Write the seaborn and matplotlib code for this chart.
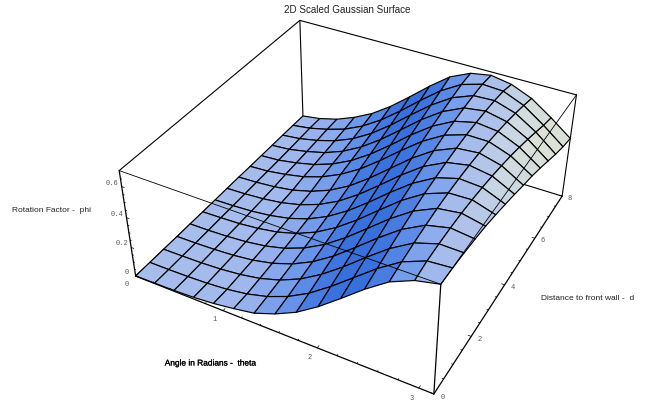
import numpy as np
import matplotlib
matplotlib.use("Agg")
import matplotlib.pyplot as plt
import matplotlib.patheffects as pe
import seaborn as sns

TITLE = "2D Scaled Gaussian Surface"
XLABEL = "Angle in Radians -  theta"
YLABEL = "Distance to front wall -  d"
ZLABEL = "Rotation Factor -  phi"

theta = [0, .224, .449, .673, .898, 1.122, 1.346, 1.571, 1.795, 2.020, 2.244, 2.468, 2.693, 2.917, 3.142]
dist = [0, .571, 1.143, 1.714, 2.286, 2.857, 3.429, 4.0, 4.571, 5.143, 5.714, 6.286, 6.857, 7.429, 8.0]

phi = [
    [.001, .003, .006, .012, .025, .045, .070, .122, .190, .284, .393, .506, .606, .668, .700],
    [.001, .002, .005, .011, .023, .045, .082, .138, .215, .315, .425, .536, .630, .687, .698],
    [.001, .003, .006, .014, .029, .054, .096, .158, .242, .345, .458, .565, .650, .695, .692],
    [.001, .003, .008, .017, .034, .064, .111, .179, .269, .377, .489, .592, .667, .699, .682],
    [.002, .004, .010, .021, .041, .075, .128, .203, .299, .409, .521, .617, .681, .699, .669],
    [.002, .006, .012, .026, .049, .088, .147, .228, .328, .440, .550, .639, .690, .694, .650],
    [.003, .007, .015, .031, .058, .102, .167, .254, .358, .471, .575, .655, .695, .685, .628],
    [.004, .009, .019, .037, .069, .118, .188, .281, .389, .501, .601, .670, .696, .673, .605],
    [.005, .011, .023, .044, .081, .135, .211, .310, .420, .531, .623, .681, .693, .657, .578],
    [.004, .012, .032, .059, .103, .166, .248, .350, .460, .564, .645, .689, .687, .639, .555],
    [.005, .014, .037, .068, .116, .184, .273, .378, .489, .588, .660, .692, .676, .617, .525],
    [.005, .017, .043, .077, .130, .204, .298, .406, .516, .610, .673, .692, .663, .592, .492],
    [.006, .021, .049, .088, .145, .225, .324, .435, .542, .630, .682, .688, .645, .563, .458],
    [.006, .025, .057, .099, .163, .248, .351, .463, .568, .648, .687, .679, .624, .533, .430],
    [.005, .025, .060, .114, .183, .274, .381, .493, .594, .655, .678, .655, .600, .510, .410],
]

theta_ticks = [0, 1, 2, 3]
theta_minor = [.2, .4, .6, .8, 1.2, 1.4, 1.6, 1.8, 2.2, 2.4, 2.6, 2.8]
dist_ticks = [0, 2, 4, 6, 8]
dist_minor = [.5, 1, 1.5, 2.5, 3, 3.5, 4.5, 5, 5.5, 6.5, 7, 7.5]
phi_ticks = [0, .2, .4, .6]
phi_tick_labels = ["0", "0.2", "0.4", "0.6"]
phi_minor = [.05, .1, .15, .25, .3, .35, .45, .5, .55, .65]

TMAX, DMAX, ZMAX = np.pi, 8.0, 0.7
W, H = 649, 401

# Camera: where the box corners and axis ticks fall in the picture
box_corners = [(0, 0, 0), (TMAX, 0, 0), (TMAX, DMAX, 0), (0, DMAX, 0),
               (0, 0, ZMAX), (TMAX, 0, ZMAX), (TMAX, DMAX, ZMAX), (0, DMAX, ZMAX)]
box_pixels = [(135, 277), (434, 394), (563, 197), (303, 115),
              (118, 170), (441, 283), (577, 94), (300, 22)]
tick_points = [(1, 0, 0), (2, 0, 0), (3, 0, 0),
               (TMAX, 2, 0), (TMAX, 4, 0), (TMAX, 6, 0),
               (0, 0, .2), (0, 0, .4), (0, 0, .6)]
tick_pixels = [(224, 311), (318, 348.5), (420, 388),
               (470, 337), (503, 285), (534, 238),
               (131.7, 245), (126.7, 218), (121.7, 188)]


def fit_camera(corners, pixels):
    rows, rhs = [], []
    for (x, y, z), (u, v) in zip(corners, pixels):
        rows.append([x, y, z, 1, 0, 0, 0, 0, -u * x, -u * y, -u * z]); rhs.append(u)
        rows.append([0, 0, 0, 0, x, y, z, 1, -v * x, -v * y, -v * z]); rhs.append(v)
    p = np.linalg.lstsq(np.array(rows, float), np.array(rhs, float), rcond=None)[0]
    return np.append(p, 1.0).reshape(3, 4)


sns.set_theme(style="white")
plt.rcParams["font.family"] = ["Liberation Sans", "DejaVu Sans"]

fig = plt.figure(figsize=(W / 100, H / 100), dpi=100, facecolor="white")
ax = fig.add_axes([0, 0, 1, 1], projection="3d", computed_zorder=False)
ax.set_axis_off()
ax.patch.set_alpha(0)
ax.apply_aspect = lambda position=None: None

CAM = fit_camera(box_corners + tick_points, box_pixels + tick_pixels)


def get_proj():
    flip = np.array([[1, 0, 0], [0, -1, H], [0, 0, 1]], float)
    inv = ax.transData.inverted().get_matrix()
    p = inv @ flip @ CAM
    return np.array([p[0], p[1], [0, 0, 0, -1], p[2]])


ax.get_proj = get_proj


def to_fig(x, y, z):
    u, v, w = CAM @ np.array([x, y, z, 1.0])
    return u / w / W, 1 - v / w / H


T, D = np.meshgrid(np.array(theta), np.array(dist))
Z = np.array(phi)

# Shading: the surface is lit according to its tilt along theta
slope = np.diff(Z, axis=1) / np.diff(T, axis=1)
slope = 0.5 * (slope[:-1] + slope[1:])
shade_map = sns.blend_palette(
    [(225/255, 228/255, 212/255), (202/255, 215/255, 228/255), (175/255, 194/255, 233/255),
     (160/255, 184/255, 237/255), (108/255, 152/255, 235/255), (55/255, 112/255, 220/255)],
    as_cmap=True)
colors = np.ones(Z.shape + (4,))
colors[:-1, :-1] = shade_map(np.clip((slope + 0.5) / 1.0, 0, 1))

corner = dict(zip("ABCDEFGH", box_corners))


def edge(a, b, z, lw=0.8):
    p, q = corner[a], corner[b]
    ax.plot([p[0], q[0]], [p[1], q[1]], [p[2], q[2]], color="black", lw=lw, zorder=z)


for a, b in ["CD", "DH", "EH", "GH", "CG"]:
    edge(a, b, 1)

ax.plot_surface(T, D, Z, facecolors=colors, rstride=1, cstride=1, shade=False,
                edgecolor="black", linewidth=0.85, zorder=2)

for a, b in ["AB", "BC", "AE", "BF"]:
    edge(a, b, 3, lw=0.9)
for a, b in ["EF", "FG"]:
    edge(a, b, 3, lw=0.6)
ax.plot([0, 0], [0, DMAX], [0, 0], color="black", lw=0.8, zorder=1)

# Ticks
for t, n in [(v, .08) for v in theta_ticks] + [(v, .04) for v in theta_minor]:
    ax.plot([t, t], [0, n], [0, 0], color="black", lw=0.5, zorder=3)
for d, n in [(v, .03) for v in dist_ticks] + [(v, .015) for v in dist_minor]:
    ax.plot([TMAX, TMAX - n], [d, d], [0, 0], color="black", lw=0.5, zorder=3)
for v, n in [(v, .03) for v in phi_ticks] + [(v, .015) for v in phi_minor]:
    ax.plot([0, n], [0, 0], [v, v], color="black", lw=0.5, zorder=3)

tick_style = dict(family="Liberation Mono", fontsize=5, color="#555555",
                  ha="center", va="center")
for t in theta_ticks:
    fig.text(*to_fig(t, -0.35, 0), str(t), **tick_style)
for d in dist_ticks:
    fig.text(*to_fig(TMAX + 0.08, d, 0), str(d), **tick_style)
for v, s in zip(phi_ticks, phi_tick_labels):
    fig.text(*to_fig(-0.11, 0, v), s, **tick_style)

fig.text(347 / W, 1 - 10 / H, TITLE, fontsize=7.1, color="#222222", ha="center", va="center")
fig.text(211 / W, 1 - 364 / H, XLABEL, fontsize=6, color="black", ha="center", va="center",
         path_effects=[pe.withStroke(linewidth=0.15, foreground="black")])
fig.text(588 / W, 1 - 298 / H, YLABEL, fontsize=6, color="#222222", ha="center", va="center")
fig.text(52 / W, 1 - 211 / H, ZLABEL, fontsize=6, color="#222222", ha="center", va="center")

fig.savefig("out.png", dpi=100, facecolor="white")
